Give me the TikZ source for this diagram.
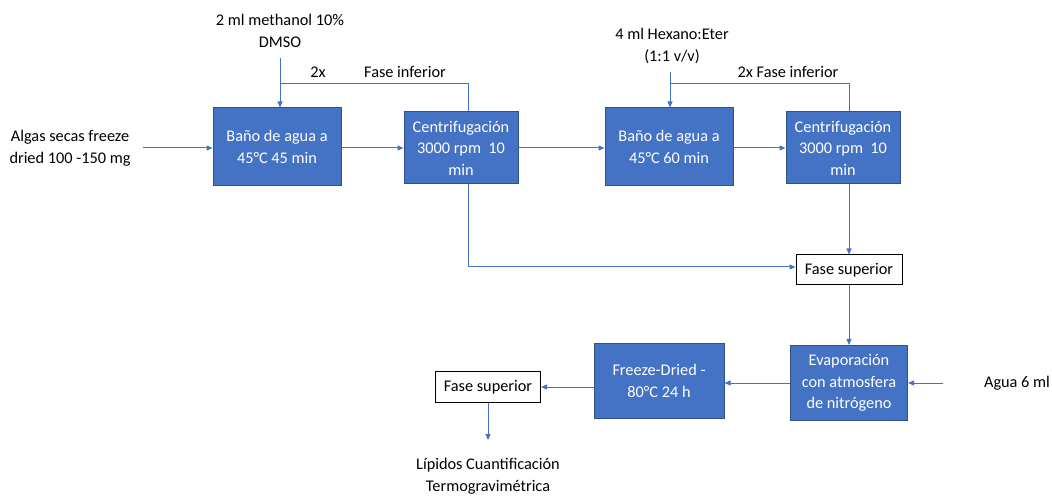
\documentclass[tikz,border=0pt]{standalone}
\usepackage{fontspec}
\setmainfont{Carlito}
\usetikzlibrary{arrows.meta}
\definecolor{bfill}{HTML}{4472C4}
\definecolor{bline}{HTML}{2F528F}
\definecolor{aline}{HTML}{4472C4}
\begin{document}
\begin{tikzpicture}[x=1bp,y=-1bp,
  every node/.style={font=\fontsize{16.3bp}{21.5bp}\selectfont,align=center,inner sep=0pt},
  proc/.style={draw=bline,fill=bfill,line width=1bp,text=white,minimum width=#1},
  wbox/.style={draw=black,fill=white,line width=1bp,minimum width=106bp,minimum height=30bp},
  lbl/.style={text=black},
  conn/.style={draw=aline,line width=1bp},
  arr/.style={conn,-{Triangle[length=6bp,width=5bp]}}]
\useasboundingbox (0,0) rectangle (1052,496);
% process boxes
\node[proc=128bp,minimum height=78bp] (b1) at (277,147) {Baño de agua a\\45°C 45 min};
\node[proc=114bp,minimum height=72bp] (c1) at (461,148) {Centrifugación\\3000 rpm\ \ 10\\min};
\node[proc=128bp,minimum height=78bp] (b2) at (669,147) {Baño de agua a\\45°C 60 min};
\node[proc=114bp,minimum height=72bp] (c2) at (843,148) {Centrifugación\\3000 rpm\ \ 10\\min};
\node[wbox] (fs1) at (849,270) {Fase superior};
\node[proc=117bp,minimum height=75bp] (ev) at (849,383) {Evaporación\\con atmosfera\\de nitrógeno};
\node[proc=130bp,minimum height=75bp] (fd) at (659,381) {Freeze-Dried -\\80°C 24 h};
\node[wbox,minimum width=105bp] (fs2) at (488,387) {Fase superior};
% texts
\node[lbl] (alg) at (70,148) {Algas secas freeze\\dried 100 -150 mg};
\node[lbl] (meth) at (280,31) {2 ml methanol 10\%\\DMSO};
\node[lbl] (twox) at (318,72) {2x};
\node[lbl] (fi1) at (405,72) {Fase inferior};
\node[lbl] (hex) at (672,46) {4 ml Hexano:Eter\\(1:1 v/v)};
\node[lbl] (fi2) at (788,72) {2x Fase inferior};
\node[lbl] (agua) at (1017,383) {Agua 6 ml};
\node[lbl] (lip) at (488,476) {Lípidos Cuantificación\\Termogravimétrica};
% coordinates
\coordinate (algE) at (143,148);
\coordinate (methS) at (280,58);
\coordinate (j1) at (280,84);
\coordinate (k1) at (468,84);
\coordinate (hexS) at (670,72);
\coordinate (j2) at (670,84);
\coordinate (k2) at (849,84);
\coordinate (d1) at (468,267);
\coordinate (aguaW) at (943,383);
\coordinate (lipN) at (488,440);
% connectors
\draw[arr] (algE) -- (algE -| b1.west);
\draw[arr] (b1.east |- 0,148) -- (c1.west |- 0,148);
\draw[arr] (c1.east |- 0,148) -- (b2.west |- 0,148);
\draw[arr] (b2.east |- 0,148) -- (c2.west |- 0,148);
\draw[conn] (k1 |- c1.north) -- (k1) -- (j1);
\draw[arr] (methS) -- (methS |- b1.north);
\draw[conn] (k2 |- c2.north) -- (k2) -- (j2);
\draw[arr] (hexS) -- (hexS |- b2.north);
\draw[arr] (k1 |- c1.south) -- (d1) -- (d1 -| fs1.west);
\draw[arr] (k2 |- c2.south) -- (fs1.north);
\draw[arr] (fs1.south) -- (ev.north);
\draw[arr] (aguaW) -- (aguaW -| ev.east);
\draw[arr] (ev.west |- 0,383) -- (fd.east |- 0,383);
\draw[arr] (fd.west |- 0,387) -- (fs2.east);
\draw[arr] (fs2.south) -- (lipN);
\end{tikzpicture}
\end{document}
